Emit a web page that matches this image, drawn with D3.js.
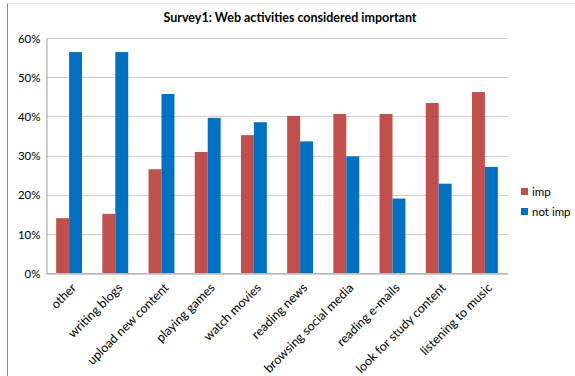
<!DOCTYPE html>
<html>
<head>
<meta charset="utf-8">
<script src="https://cdn.jsdelivr.net/npm/d3@7"></script>
<style>
  body { margin: 0; background: #fff; }
  text { font-family: Lato, "Open Sans", sans-serif; fill: #000; }
</style>
</head>
<body>
<div id="chart"></div>
<script>
var categories = ["other", "writing blogs", "upload new content", "playing games", "watch movies",
  "reading news", "browsing social media", "reading e-mails", "look for study content", "listening to music"];
var seriesNames = ["imp", "not imp"];
var impValues = [0.140, 0.151, 0.265, 0.309, 0.352, 0.401, 0.406, 0.406, 0.434, 0.462];
var notImpValues = [0.564, 0.564, 0.457, 0.396, 0.385, 0.336, 0.298, 0.190, 0.228, 0.271];
var yTicks = [0, 0.1, 0.2, 0.3, 0.4, 0.5, 0.6];
var colors = ["#c0504d", "#0070c0"];

var width = 575, height = 376;
var margin = {top: 38, left: 46, right: 67, bottom: 103};

var svg = d3.select("#chart").append("svg")
  .attr("width", width)
  .attr("height", height);

// outer chart frame (only top and left edges visible in the picture)
svg.append("line").attr("x1", 7.5).attr("x2", width).attr("y1", 3.5).attr("y2", 3.5)
  .attr("stroke", "#e4e4e4");
svg.append("line").attr("x1", 7.5).attr("x2", 7.5).attr("y1", 3.5).attr("y2", height)
  .attr("stroke", "#8c8c8c");

var x = d3.scaleBand()
  .domain(categories)
  .range([margin.left, width - margin.right])
  .paddingInner(0.44)
  .paddingOuter(0.22);

var xs = d3.scaleBand()
  .domain(seriesNames)
  .range([0, x.bandwidth()]);

var y = d3.scaleLinear()
  .domain([0, 0.6])
  .range([height - margin.bottom, margin.top]);

// gridlines
svg.append("g")
  .selectAll("line")
  .data(yTicks)
  .enter().append("line")
  .attr("x1", margin.left)
  .attr("x2", width - margin.right)
  .attr("y1", d => Math.round(y(d)) + 0.5)
  .attr("y2", d => Math.round(y(d)) + 0.5)
  .attr("stroke", "#d0d0d0");

// y axis
var yAxis = svg.append("g")
  .attr("transform", "translate(" + (margin.left + 0.5) + ",0.5)")
  .call(d3.axisLeft(y).tickValues(yTicks).tickFormat(d3.format(".0%")).tickSize(0).tickPadding(6));
yAxis.select(".domain").attr("stroke", "#a0a0a0");
yAxis.selectAll("text").style("font-size", "11.5px");

var groups = [impValues, notImpValues];
svg.append("g")
  .selectAll("g")
  .data(groups)
  .enter().append("g")
  .attr("fill", (d, i) => colors[i])
  .each(function (vals, i) {
    d3.select(this).selectAll("rect")
      .data(vals)
      .enter().append("rect")
      .attr("x", (v, j) => x(categories[j]) + xs(seriesNames[i]))
      .attr("y", v => y(v))
      .attr("width", xs.bandwidth())
      .attr("height", v => y(0) - y(v));
  });

// x axis
var xAxis = svg.append("g")
  .attr("transform", "translate(0," + (Math.round(y(0)) + 0.5) + ")")
  .call(d3.axisBottom(x).tickSize(0).tickPadding(0));
xAxis.select(".domain").attr("stroke", "#a0a0a0");
xAxis.selectAll("text")
  .style("font-size", "12.5px")
  .attr("text-anchor", "end")
  .attr("dy", "0")
  .attr("transform", "translate(8,15) rotate(-45)");

// title
svg.append("text")
  .attr("x", 290)
  .attr("y", 22)
  .attr("text-anchor", "middle")
  .style("font-size", "12.5px")
  .style("font-weight", "bold")
  .text("Survey1: Web activities considered important");

// legend
var legend = svg.append("g")
  .selectAll("g")
  .data(seriesNames)
  .enter().append("g")
  .attr("transform", (d, i) => "translate(521," + (188 + i * 20) + ")");
legend.append("rect")
  .attr("width", 7).attr("height", 7)
  .attr("fill", (d, i) => colors[i]);
legend.append("text")
  .attr("x", 11).attr("y", 7.5)
  .style("font-size", "11.5px")
  .text(d => d);
</script>
</body>
</html>
